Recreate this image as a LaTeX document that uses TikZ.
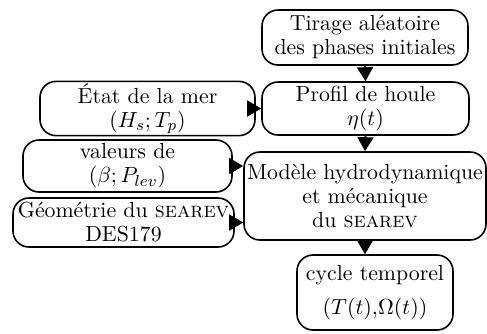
\documentclass[tikz,border=0pt]{standalone}
\usepackage{amsmath,amssymb}
\usepackage{tikz}
\usetikzlibrary{positioning,arrows.meta}

\begin{document}
\begin{tikzpicture}[x=0.5pt,y=-0.5pt,
    bloc/.style={draw, line width=0.8pt, rounded corners=8pt, align=center,
        inner sep=1pt, font=\fontsize{10.9}{12}\selectfont},
    fleche/.style={-{Triangle[length=7pt,width=8pt]}, line width=0.8pt}]
    \useasboundingbox (0,0) rectangle (487,333);

    % colonne de droite
    \node[bloc, minimum width=103pt, minimum height=27.5pt] (tirage) at (365,37.5) {Tirage aléatoire\\des phases initiales};
    \node[bloc, minimum width=103.5pt, minimum height=26.5pt] (profil) at (365.5,108.5) {Profil de houle\\$\eta(t)$};
    \node[bloc, minimum width=121pt, minimum height=44pt] (modele) at (365,196) {Modèle hydrodynamique\\et mécanique\\du \textsc{searev}};
    \node[bloc, minimum width=78pt, minimum height=37.5pt] (cycle) at (375,292.5) {cycle temporel\\[5pt]$(T(t)\mathord{,}\Omega(t))$};

    % entrees a gauche
    \node[bloc, minimum width=107.5pt, minimum height=26.5pt] (etat) at (147.5,108.5) {État de la mer\\$(H_s;T_p)$};
    \node[bloc, minimum width=104.5pt, minimum height=26pt] (valeurs) at (127.5,166) {valeurs de\\$(\beta;P_{lev})$};
    \node[bloc, minimum width=110.5pt, minimum height=24.5pt] (geometrie) at (123.5,222.5) {Géométrie du \textsc{searev}\\DES179};

    \draw[fleche] (tirage.south) -- (profil.north);
    \draw[fleche] (profil.south) -- (modele.north);
    \draw[fleche] (modele.south) -- (modele.south |- cycle.north);
    \draw[fleche] (etat.east) -- (profil.west);
    \draw[fleche] (valeurs.east) -- (valeurs.east -| modele.west);
    \draw[fleche] (geometrie.east) -- (geometrie.east -| modele.west);
\end{tikzpicture}
\end{document}
